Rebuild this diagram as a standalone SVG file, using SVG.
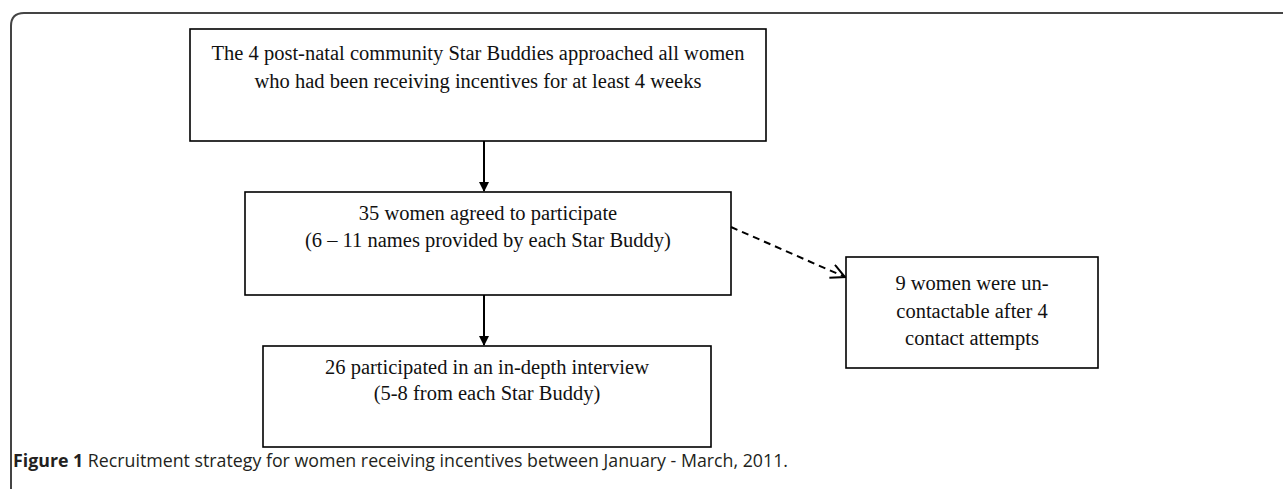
<svg xmlns="http://www.w3.org/2000/svg" width="1283" height="489" viewBox="0 0 1283 489">
<style>
.box{fill:#fff;stroke:#000;stroke-width:1.6}
.t{font-family:"Liberation Serif","Times New Roman",serif;font-size:20.5px;fill:#111;text-anchor:middle}
.cap{font-family:"Open Sans","Liberation Sans",sans-serif;font-size:17.5px;fill:#231f20}
.ln{stroke:#000;stroke-width:2;fill:none}
</style>
<defs>
<marker id="ah" markerWidth="10" markerHeight="10" refX="9" refY="5" orient="auto" markerUnits="userSpaceOnUse" viewBox="0 0 10 10">
<path d="M0,0 L10,5 L0,10 Z" fill="#000"/>
</marker>
<marker id="oa" markerWidth="16" markerHeight="16" refX="15" refY="8" orient="auto" markerUnits="userSpaceOnUse" viewBox="0 0 16 16">
<path d="M1,1 L15,8 L1,15" fill="none" stroke="#000" stroke-width="2"/>
</marker>
</defs>
<rect width="1283" height="489" fill="#fff"/>
<path d="M1290,13 H24 Q11,13 11,26 V489" fill="none" stroke="#444" stroke-width="2"/>
<g id="n1"><rect class="box" x="190" y="29" width="576" height="112"/>
<text class="t" x="478" y="60">The 4 post-natal community Star Buddies approached all women</text>
<text class="t" x="478" y="88">who had been receiving incentives for at least 4 weeks</text></g>
<g id="n2"><rect class="box" x="245" y="192" width="486" height="103"/>
<text class="t" x="488" y="220">35 women agreed to participate</text>
<text class="t" x="488" y="247">(6 – 11 names provided by each Star Buddy)</text></g>
<g id="n3"><rect class="box" x="263" y="346" width="448" height="101"/>
<text class="t" x="487" y="374">26 participated in an in-depth interview</text>
<text class="t" x="487" y="400">(5-8 from each Star Buddy)</text></g>
<g id="n4"><rect class="box" x="846" y="257" width="252" height="111"/>
<text class="t" x="972" y="290">9 women were un-</text>
<text class="t" x="972" y="318">contactable after 4</text>
<text class="t" x="972" y="345">contact attempts</text></g>
<g id="connectors">
<line class="ln" x1="484" y1="141" x2="484" y2="191" marker-end="url(#ah)"/>
<line class="ln" x1="484" y1="295" x2="484" y2="345" marker-end="url(#ah)"/>
<line class="ln" x1="731" y1="227" x2="845" y2="277" stroke-dasharray="7,5" marker-end="url(#oa)"/>
</g>
<text class="cap" x="13" y="467" textLength="775" lengthAdjust="spacingAndGlyphs"><tspan font-weight="bold">Figure 1</tspan> Recruitment strategy for women receiving incentives between January - March, 2011.</text>
</svg>
